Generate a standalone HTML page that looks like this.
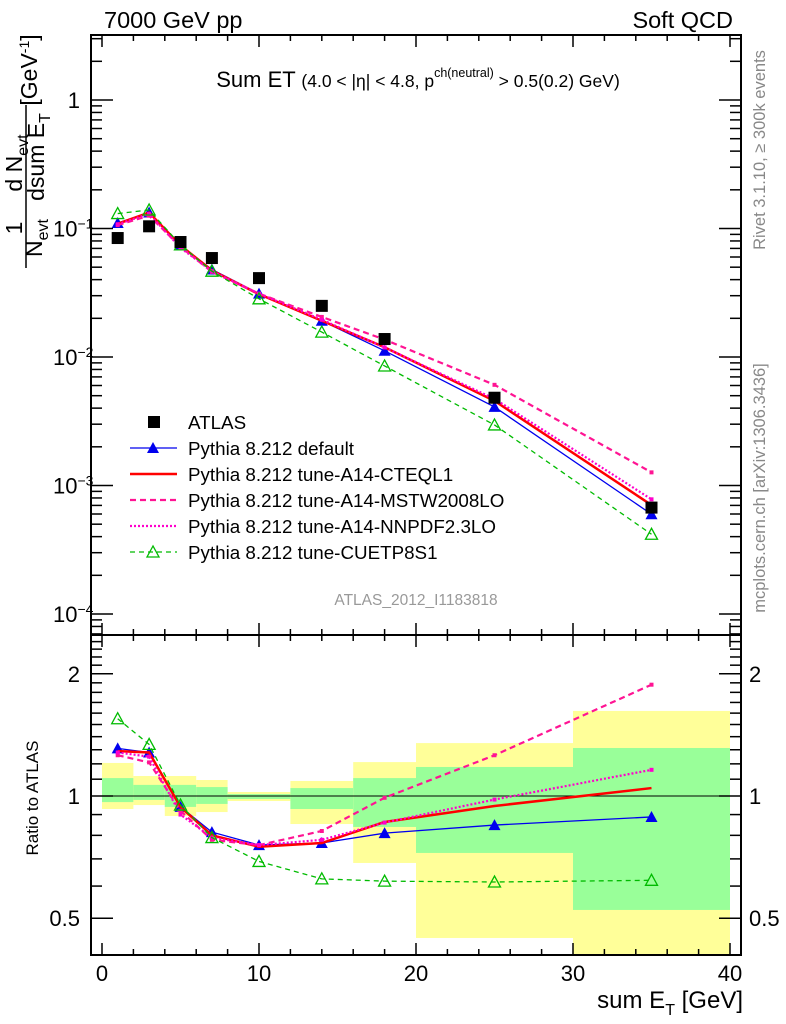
<!DOCTYPE html>
<html><head><meta charset="utf-8"><style>
html,body{margin:0;padding:0;background:#fff;}
svg{display:block;font-family:"Liberation Sans",sans-serif;}
</style></head><body>
<svg id="chart" width="786" height="1024" viewBox="0 0 786 1024" xmlns="http://www.w3.org/2000/svg">
<text x="104" y="28" font-size="23.5">7000 GeV pp</text>
<text x="733" y="28" font-size="23.5" text-anchor="end">Soft QCD</text>
<text x="418" y="87" font-size="22" text-anchor="middle">Sum ET <tspan font-size="17.5">(4.0 &lt; |η| &lt; 4.8, p</tspan><tspan font-size="12.5" dy="-10">ch(neutral)</tspan><tspan font-size="17.5" dy="10"> &gt; 0.5(0.2) GeV)</tspan></text>
<text transform="translate(765,150) rotate(-90)" font-size="16.5" fill="#888" text-anchor="middle">Rivet 3.1.10, ≥ 300k events</text>
<text transform="translate(765,488) rotate(-90)" font-size="16.5" fill="#888" text-anchor="middle">mcplots.cern.ch [arXiv:1306.3436]</text>
<text x="416" y="605" font-size="15.5" fill="#999" text-anchor="middle">ATLAS_2012_I1183818</text>
<g font-size="23" text-anchor="middle">
<text transform="translate(22,228) rotate(-90)">1</text>
<line x1="26" y1="203" x2="26" y2="268" stroke="#000" stroke-width="1.5"/>
<text transform="translate(42,238) rotate(-90)">N<tspan font-size="16" dy="6">evt</tspan></text>
<text transform="translate(22,163) rotate(-90)">d N<tspan font-size="16" dy="6">evt</tspan></text>
<line x1="26" y1="105" x2="26" y2="203" stroke="#000" stroke-width="1.5"/>
<text transform="translate(44,157) rotate(-90)">dsum E<tspan font-size="16" dy="6">T</tspan></text>
<text transform="translate(37,70) rotate(-90)">[GeV<tspan font-size="14" dy="-8">-1</tspan><tspan dy="8">]</tspan></text>
</g>
<text transform="translate(38,798) rotate(-90)" font-size="17" text-anchor="middle">Ratio to ATLAS</text>
<text x="743" y="1008" font-size="24" text-anchor="end">sum E<tspan font-size="16" dy="7">T</tspan><tspan dy="-7"> [GeV]</tspan></text>
<g id="plot"></g>
</svg>
<script>
const xCenters=[1,3,5,7,10,14,18,25,35];
const binLo=[0,2,4,6,8,12,16,20,30];
const binHi=[2,4,6,8,12,16,20,30,40];
const atlas=[0.0843,0.104,0.0785,0.0589,0.0411,0.0250,0.0138,0.00482,0.000673];
const rDefault=[1.31,1.28,0.94,0.815,0.757,0.766,0.81,0.848,0.888];
const rCTEQ=[1.29,1.28,0.94,0.80,0.75,0.766,0.863,0.945,1.046];
const rMSTW=[1.26,1.21,0.92,0.78,0.757,0.82,0.99,1.26,1.88];
const rNNPDF=[1.28,1.25,0.90,0.79,0.757,0.78,0.86,0.98,1.16];
const rCUETP=[1.55,1.34,0.95,0.79,0.69,0.625,0.617,0.614,0.62];
const yelHi=[1.206,1.12,1.12,1.095,1.023,1.089,1.212,1.35,1.62];
const yelLo=[0.929,0.95,0.893,0.913,0.972,0.853,0.684,0.447,0.38];
const grnHi=[1.107,1.065,1.065,1.052,1.011,1.046,1.107,1.179,1.313];
const grnLo=[0.966,0.978,0.94,0.956,0.983,0.929,0.839,0.724,0.524];
const xTicks=[0,10,20,30,40];

const NS="http://www.w3.org/2000/svg";
const g=document.getElementById('plot');
const L=91,R=741,T=35,MB=635,RB=955;
const X=v=>102+15.7*v;
const Ym=v=>100-128.5*Math.log10(v);
const Yr=v=>796-406*Math.log10(v);
function mk(tag,attrs,parent){const e=document.createElementNS(NS,tag);for(const k in attrs)e.setAttribute(k,attrs[k]);(parent||g).appendChild(e);return e;}

const defs=mk('defs',{});
const cp=mk('clipPath',{id:'rclip'},defs);mk('rect',{x:L,y:MB,width:R-L,height:RB-MB},cp);
const cpm=mk('clipPath',{id:'mclip'},defs);mk('rect',{x:L,y:T,width:R-L,height:MB-T},cpm);
const bands=mk('g',{'clip-path':'url(#rclip)'});


for(let i=0;i<binLo.length;i++){
  const y1=mk('rect',{x:X(binLo[i]),y:Yr(yelHi[i]),width:X(binHi[i])-X(binLo[i]),height:Yr(yelLo[i])-Yr(yelHi[i]),fill:'#ffff99'},bands);
  
  
  const g1=mk('rect',{x:X(binLo[i]),y:Yr(grnHi[i]),width:X(binHi[i])-X(binLo[i]),height:Yr(grnLo[i])-Yr(grnHi[i]),fill:'#99ff99'},bands);
  
  
}
const one=mk('line',{x1:L,x2:R,y1:Yr(1),y2:Yr(1),stroke:'#000','stroke-width':1});



const series=[
 {name:'default',r:rDefault,color:'#0000ee',w:1.3,dash:'',mk:'tri'},
 {name:'a14-cteql1',r:rCTEQ,color:'#ff0000',w:2.5,dash:'',mk:'none'},
 {name:'a14-mstw2008lo',r:rMSTW,color:'#ff1493',w:2.2,dash:'6,4',mk:'sq'},
 {name:'a14-nnpdf23lo',r:rNNPDF,color:'#ff00cc',w:2.2,dash:'2,2',mk:'sq'},
 {name:'cuetp8s1',r:rCUETP,color:'#00bb00',w:1.3,dash:'5,4',mk:'otri'}
];
function marker(par,type,x,y,c){
  let e=null;
  if(type==='tri') e=mk('polygon',{points:`${x},${y-6} ${x-6},${y+5} ${x+6},${y+5}`,fill:c},par);
  else if(type==='otri') e=mk('polygon',{points:`${x},${y-6} ${x-6},${y+5} ${x+6},${y+5}`,fill:'none',stroke:c,'stroke-width':1.3},par);
  else if(type==='sq') e=mk('rect',{x:x-2,y:y-2,width:4,height:4,fill:c},par);
  if(e){}
}
function drawSeries(s,Yf,vals,clip,panel){
  const sg=mk('g',{'clip-path':clip});
  
  
  const pts=xCenters.map((x,i)=>X(x)+','+Yf(vals[i])).join(' ');
  mk('polyline',{points:pts,fill:'none',stroke:s.color,'stroke-width':s.w,'stroke-dasharray':s.dash},sg);
  xCenters.forEach((x,i)=>marker(sg,s.mk,X(x),Yf(vals[i]),s.color));
}
series.forEach(s=>{
  drawSeries(s,Ym,s.r.map((r,i)=>r*atlas[i]),'url(#mclip)','main');
  drawSeries(s,Yr,s.r,'url(#rclip)','ratio');
});
const ag=mk('g',{});


xCenters.forEach((x,i)=>{const e=mk('rect',{x:X(x)-6,y:Ym(atlas[i])-6,width:12,height:12,fill:'#000'},ag);
 
 });

const f1=mk('rect',{x:L,y:T,width:R-L,height:MB-T,fill:'none',stroke:'#000','stroke-width':2});


const f2=mk('rect',{x:L,y:MB,width:R-L,height:RB-MB,fill:'none',stroke:'#000','stroke-width':2});



const tg=mk('g',{stroke:'#000','stroke-width':1.5});


for(let v=0;v<=40;v+=2){
  const len=v%10===0?12:6,x=X(v);
  mk('line',{x1:x,x2:x,y1:T,y2:T+len},tg);
  mk('line',{x1:x,x2:x,y1:MB,y2:MB-len},tg);
  mk('line',{x1:x,x2:x,y1:MB,y2:MB+len},tg);
  mk('line',{x1:x,x2:x,y1:RB,y2:RB-len},tg);
}
xTicks.forEach(v=>{const t=mk('text',{x:X(v),y:981,'font-size':22,'text-anchor':'middle'});t.textContent=v;
 
 });
for(let d=-5;d<=0;d++){
  for(let m=1;m<10;m++){
    const v=m*Math.pow(10,d),y=Ym(v);
    if(y<T||y>MB)continue;
    const len=m===1?22:11;
    mk('line',{x1:L,x2:L+len,y1:y,y2:y},tg);
    mk('line',{x1:R,x2:R-len,y1:y,y2:y},tg);
  }
}
const mlabels=[[1,'1'],[0.1,'10<tspan font-size="14" dy="-8">−1</tspan>'],[0.01,'10<tspan font-size="14" dy="-8">−2</tspan>'],[0.001,'10<tspan font-size="14" dy="-8">−3</tspan>'],[0.0001,'10<tspan font-size="14" dy="-8">−4</tspan>']];
mlabels.forEach(([v,h])=>{const t=mk('text',{x:v===1?80:53,y:Ym(v)+8,'font-size':22,'text-anchor':v===1?'end':'start'});t.innerHTML=h;
 
 });
for(let v=0.4;v<=2.5;v+=0.1){
  const vv=Math.round(v*10)/10,y=Yr(vv);
  if(y<MB||y>RB)continue;
  const len=(vv===1||vv===2||vv===0.5)?22:11;
  mk('line',{x1:L,x2:L+len,y1:y,y2:y},tg);
  mk('line',{x1:R,x2:R-len,y1:y,y2:y},tg);
}
[[2,'2'],[1,'1'],[0.5,'0.5']].forEach(([v,s])=>{
  const t=mk('text',{x:80,y:Yr(v)+8,'font-size':22,'text-anchor':'end'});t.textContent=s;
  
  
  const t2=mk('text',{x:749,y:Yr(v)+8,'font-size':22});t2.textContent=s;
  
  
});

const lg=mk('g',{});


const legNames=['ATLAS','Pythia 8.212 default','Pythia 8.212 tune-A14-CTEQL1','Pythia 8.212 tune-A14-MSTW2008LO','Pythia 8.212 tune-A14-NNPDF2.3LO','Pythia 8.212 tune-CUETP8S1'];
legNames.forEach((n,i)=>{
  const y=422+26*i;
  const eg=mk('g',{},lg);
  
  
  if(i===0) mk('rect',{x:148,y:y-6,width:12,height:12,fill:'#000'},eg);
  else{const s=series[i-1];
    mk('line',{x1:130,x2:177,y1:y,y2:y,stroke:s.color,'stroke-width':s.w,'stroke-dasharray':s.dash},eg);
    if(s.mk==='tri'||s.mk==='otri')marker(eg,s.mk,153,y,s.color);}
  const t=mk('text',{x:188,y:y+7,'font-size':18.8},eg);t.textContent=n;
});
</script>
</body></html>
